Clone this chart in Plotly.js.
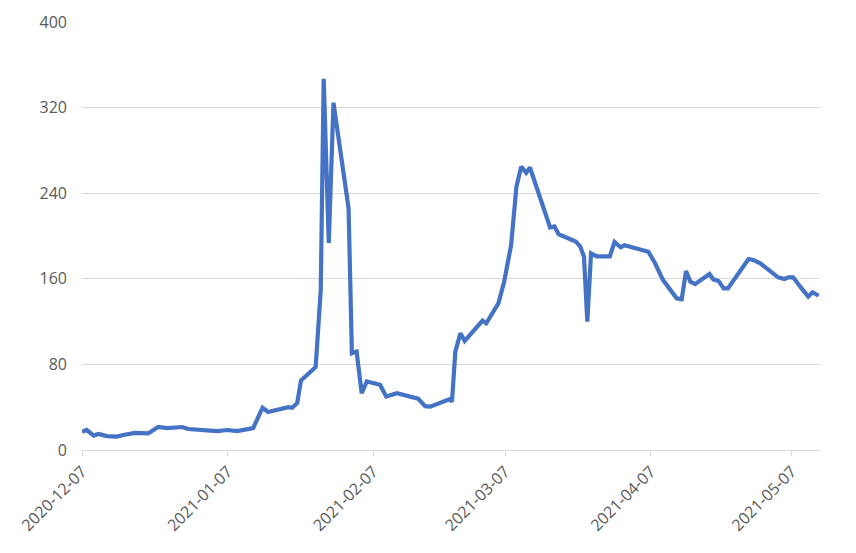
<!DOCTYPE html>
<html>
<head>
<meta charset="utf-8">
<script src="https://cdn.plot.ly/plotly-3.0.1.min.js"></script>
<style>html,body{margin:0;padding:0;background:#fff;}#chart{width:856px;height:553px;}</style>
</head>
<body>
<div id="chart"></div>
<script>
const dates = [
  "2020-12-07 00:00","2020-12-08 00:00","2020-12-09 12:00","2020-12-10 12:00","2020-12-12 07:00",
  "2020-12-14 10:00","2020-12-15 19:00","2020-12-18 07:00","2020-12-21 02:00","2020-12-23 05:00",
  "2020-12-25 02:00","2020-12-28 07:00","2020-12-29 14:00","2021-01-04 19:00","2021-01-06 22:00",
  "2021-01-09 00:00","2021-01-12 10:00","2021-01-14 10:00","2021-01-15 14:00","2021-01-19 22:00",
  "2021-01-20 17:00","2021-01-21 19:00","2021-01-22 14:00","2021-01-25 17:00","2021-01-26 19:00",
  "2021-01-27 10:00","2021-01-28 12:00","2021-01-29 12:00","2021-02-01 17:00","2021-02-02 10:00",
  "2021-02-03 10:00","2021-02-04 12:00","2021-02-05 14:00","2021-02-08 10:00","2021-02-09 17:00",
  "2021-02-12 00:00","2021-02-16 12:00","2021-02-18 00:00","2021-02-19 02:00","2021-02-23 07:00",
  "2021-02-23 17:00","2021-02-24 10:00","2021-02-25 12:00","2021-02-26 10:00","2021-03-02 05:00",
  "2021-03-03 00:00","2021-03-05 14:00","2021-03-06 19:00","2021-03-08 07:00","2021-03-09 10:00",
  "2021-03-10 10:00","2021-03-11 12:00","2021-03-12 07:00","2021-03-15 12:00","2021-03-16 14:00",
  "2021-03-17 12:00","2021-03-18 10:00","2021-03-22 02:00","2021-03-23 00:00","2021-03-23 19:00",
  "2021-03-24 12:00","2021-03-25 07:00","2021-03-26 12:00","2021-03-29 07:00","2021-03-30 07:00",
  "2021-03-31 14:00","2021-04-01 10:00","2021-04-06 12:00","2021-04-07 22:00","2021-04-09 14:00",
  "2021-04-12 12:00","2021-04-13 14:00","2021-04-14 12:00","2021-04-15 10:00","2021-04-16 10:00",
  "2021-04-19 12:00","2021-04-20 07:00","2021-04-21 10:00","2021-04-22 12:00","2021-04-23 10:00",
  "2021-04-26 00:00","2021-04-27 19:00","2021-04-28 19:00","2021-04-30 07:00","2021-05-04 02:00",
  "2021-05-05 10:00","2021-05-06 07:00","2021-05-07 07:00","2021-05-09 02:00","2021-05-10 12:00",
  "2021-05-11 10:00","2021-05-12 17:00"
];
const values = [
  17,18.7,13.5,15,13,
  12.5,14,16,15.5,21.5,
  20.5,21.5,19.6,17.7,18.7,
  17.7,20.5,39.5,35.5,40,
  39.5,44,65,77.5,149.5,
  347,193.5,324.6,226,90.4,
  92,53,64,61,50,
  53,48,41,40.5,47.6,
  45,92,109,102,121,
  118.4,137,157,191.6,246,
  264.8,259,264,221,208,
  209,201.6,194.7,190,180.7,
  120,183.8,181,181,194.5,
  189.4,191.3,185.3,174.5,159,
  141.8,140.8,167.3,157.3,155,
  164.5,159.5,158,151,151,
  168,178.5,177.6,174.5,161.4,
  159.8,161.4,161.4,151,143.3,
  147.4,144.2
];
const xRange = ["2020-12-07", "2021-05-13"];
const yTicks = [0, 80, 160, 240, 320, 400];

const trace = {
  x: dates, y: values, type: "scatter", mode: "lines",
  line: {color: "#4472C4", width: 4.2, shape: "linear"},
  hoverinfo: "x+y"
};
const layout = {
  width: 856, height: 553,
  margin: {l: 82, r: 36, t: 22, b: 103},
  paper_bgcolor: "#fff", plot_bgcolor: "#fff",
  showlegend: false,
  font: {family: "Open Sans, Liberation Sans, sans-serif", size: 16, color: "#595959"},
  xaxis: {
    type: "date", range: xRange,
    tick0: "2020-12-07", dtick: "M1", tickformat: "%Y-%m-%d",
    tickangle: -45, ticks: "outside", ticklen: 5, tickcolor: "#d9d9d9",
    showline: true, linecolor: "#d9d9d9", linewidth: 1,
    showgrid: false, zeroline: false,
    tickfont: {size: 16, color: "#595959"}
  },
  yaxis: {
    range: [0, 400], tickvals: yTicks,
    showgrid: true, gridcolor: "#d9d9d9", gridwidth: 1,
    zeroline: false, showline: false, ticks: "",
    ticklabelstandoff: 14,
    tickfont: {size: 16, color: "#595959"}
  }
};
Plotly.newPlot("chart", [trace], layout, {displayModeBar: false, staticPlot: true});
</script>
</body>
</html>
